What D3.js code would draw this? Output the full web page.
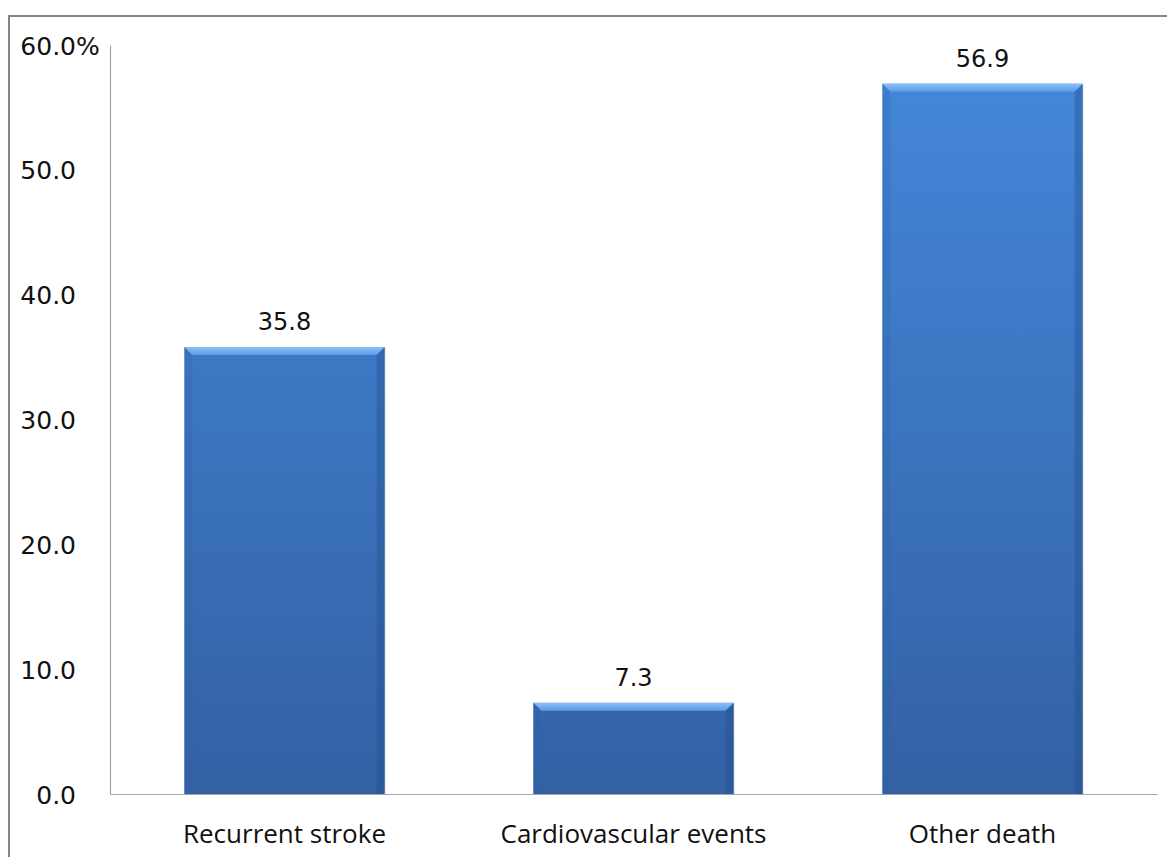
<!DOCTYPE html>
<html><head><meta charset="utf-8">
<script src="https://cdn.jsdelivr.net/npm/d3@7/dist/d3.min.js"></script>
<style>body{margin:0;background:#fff}svg{display:block}</style>
</head><body>
<script>
const categories = ["Recurrent stroke", "Cardiovascular events", "Other death"];
const values = [35.8, 7.3, 56.9];
const yTicks = [0, 10, 20, 30, 40, 50, 60];

const W = 1167, H = 857;
const svg = d3.select("body").append("svg").attr("width", W).attr("height", H);

// outer frame
svg.append("path").attr("d", `M9,${H+5} V16 H${W+5}`).attr("fill","none").attr("stroke","#858585").attr("stroke-width",2);

const plot = {left:110, right:1157, top:45, bottom:794};
const x = d3.scaleBand().domain(categories).range([plot.left, plot.right]).paddingInner(0.426).paddingOuter(0.213);
const y = d3.scaleLinear().domain([0, 60]).range([plot.bottom, plot.top]);

const defs = svg.append("defs");
const g1 = defs.append("linearGradient").attr("id","barGrad").attr("x1",0).attr("x2",0)
  .attr("gradientUnits","userSpaceOnUse").attr("y1", plot.top).attr("y2", plot.bottom);
g1.append("stop").attr("offset","0%").attr("stop-color","#4488db");
g1.append("stop").attr("offset","100%").attr("stop-color","#3361a4");
const g2 = defs.append("linearGradient").attr("id","bevGrad").attr("x1",0).attr("y1",0).attr("x2",0).attr("y2",1);
g2.append("stop").attr("offset","0%").attr("stop-color","#8cc0f5");
g2.append("stop").attr("offset","100%").attr("stop-color","#5a9ae6");

// axes
const yAxis = d3.axisLeft(y).tickValues(yTicks).tickSize(0).tickPadding(34).tickFormat(d3.format(".1f"));
const ya = svg.append("g").attr("transform",`translate(${plot.left},0)`).call(yAxis);
ya.select(".domain").attr("stroke","#a6a6a6").attr("stroke-width",1.2);
ya.selectAll("text").attr("font-family","DejaVu Sans").attr("font-size",25).attr("fill","#111").attr("dy","0.36em");
const topTick = ya.selectAll(".tick").filter(d => d === 60);
topTick.append("text").attr("x", -34).attr("dy","0.36em").attr("text-anchor","start")
  .attr("font-family","DejaVu Sans").attr("font-size",25).attr("fill","#111").text("%");

const xAxis = d3.axisBottom(x).tickSize(0).tickPadding(0);
const xa = svg.append("g").attr("transform",`translate(0,${plot.bottom})`).call(xAxis);
xa.select(".domain").attr("stroke","#a6a6a6").attr("stroke-width",1.2);
xa.selectAll("text").attr("font-family","Open Sans").attr("font-size",26).attr("fill","#111").attr("dy",0).attr("y",49);

// bars
const bars = svg.append("g").selectAll("g").data(values).join("g");
bars.each(function(v, i) {
  const g = d3.select(this);
  const x0 = x(categories[i]), bw = x.bandwidth();
  const yt = y(v), yb = y(0);
  g.append("rect").attr("x", x0+1).attr("y", yt+1).attr("width", bw).attr("height", yb-yt-1).attr("fill","#000").attr("opacity",0.12);
  g.append("rect").attr("x", x0).attr("y", yt).attr("width", bw).attr("height", yb-yt).attr("fill","url(#barGrad)");
  const b = 8;
  g.append("path").attr("d", `M${x0},${yt} H${x0+bw} L${x0+bw-b},${yt+b} H${x0+b} Z`).attr("fill","url(#bevGrad)");
  g.append("path").attr("d", `M${x0},${yt} L${x0+b},${yt+b} V${yb} H${x0} Z`).attr("fill","#2f5fa5").attr("opacity",0.25);
  g.append("path").attr("d", `M${x0+bw},${yt} L${x0+bw-b},${yt+b} V${yb} H${x0+bw} Z`).attr("fill","#1f4a88").attr("opacity",0.35);
  g.append("text").attr("x", x0+bw/2).attr("y", yt-17).attr("text-anchor","middle")
    .attr("font-family","DejaVu Sans").attr("font-size",24).attr("fill","#111").text(v.toFixed(1));
});
</script>
</body></html>
